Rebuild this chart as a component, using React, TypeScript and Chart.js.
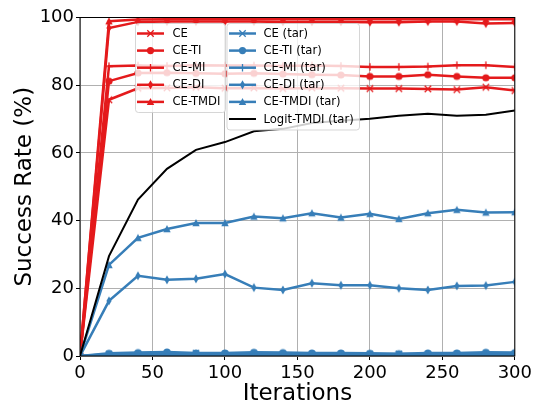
import React, { useEffect, useRef } from "react";
import { Chart, registerables } from "chart.js";

Chart.register(...registerables);

const iterations = [0, 20, 40, 60, 80, 100, 120, 140, 160, 180, 200, 220, 240, 260, 280, 300];
const xTickValues = [0, 50, 100, 150, 200, 250, 300];
const yTickValues = [0, 20, 40, 60, 80, 100];

const ce = [0, 75.7, 79.1, 79.2, 79.4, 79.1, 79.2, 79.0, 79.2, 79.1, 79.0, 79.0, 78.9, 78.7, 79.4, 78.4];
const ceTi = [0, 81.2, 83.6, 83.7, 83.5, 83.4, 83.5, 83.3, 83.1, 83.0, 82.6, 82.6, 83.1, 82.6, 82.2, 82.2];
const ceMi = [0, 85.6, 85.8, 85.7, 85.9, 85.8, 85.8, 85.7, 85.8, 85.7, 85.4, 85.4, 85.5, 85.9, 85.9, 85.4];
const ceDi = [0, 96.9, 98.7, 98.8, 98.8, 98.8, 98.8, 98.7, 98.7, 98.7, 98.6, 98.6, 98.8, 98.8, 98.2, 98.4];
const ceTmdi = [0, 98.9, 99.4, 99.5, 99.5, 99.5, 99.5, 99.5, 99.5, 99.5, 99.5, 99.5, 99.5, 99.5, 99.5, 99.5];

const ceTar = [0, 0.5, 0.6, 0.7, 0.8, 0.6, 0.7, 0.6, 0.5, 0.6, 0.5, 0.6, 0.5, 0.6, 0.7, 0.6];
const ceTiTar = [0, 0.8, 1.0, 1.2, 0.9, 0.9, 1.1, 1.0, 0.9, 0.9, 0.8, 0.7, 0.9, 0.9, 1.1, 1.0];
const ceMiTar = [0, 0.3, 0.4, 0.4, 0.3, 0.4, 0.3, 0.4, 0.3, 0.3, 0.4, 0.3, 0.3, 0.4, 0.3, 0.3];
const ceDiTar = [0, 16.3, 23.7, 22.5, 22.8, 24.2, 20.2, 19.5, 21.5, 20.9, 20.9, 20.0, 19.5, 20.7, 20.8, 21.9];
const ceTmdiTar = [0, 26.9, 34.9, 37.5, 39.3, 39.3, 41.2, 40.7, 42.2, 40.9, 42.0, 40.5, 42.2, 43.2, 42.4, 42.5];
const logitTmdiTar = [0, 29.5, 46.2, 55.3, 60.9, 63.2, 66.4, 67.1, 68.8, 69.5, 70.1, 71.0, 71.6, 71.0, 71.3, 72.5];

const FONT = "'DejaVu Sans', sans-serif";
const RED = "#e41a1c";
const BLUE = "#377eb8";

type Marker = "x" | "o" | "+" | "d" | "^" | null;

const seriesDefs: { label: string; data: number[]; color: string; marker: Marker; width: number }[] = [
  { label: "CE", data: ce, color: RED, marker: "x", width: 2.5 },
  { label: "CE-TI", data: ceTi, color: RED, marker: "o", width: 2.5 },
  { label: "CE-MI", data: ceMi, color: RED, marker: "+", width: 2.5 },
  { label: "CE-DI", data: ceDi, color: RED, marker: "d", width: 2.5 },
  { label: "CE-TMDI", data: ceTmdi, color: RED, marker: "^", width: 2.5 },
  { label: "CE (tar)", data: ceTar, color: BLUE, marker: "x", width: 2.5 },
  { label: "CE-TI (tar)", data: ceTiTar, color: BLUE, marker: "o", width: 2.5 },
  { label: "CE-MI (tar)", data: ceMiTar, color: BLUE, marker: "+", width: 2.5 },
  { label: "CE-DI (tar)", data: ceDiTar, color: BLUE, marker: "d", width: 2.5 },
  { label: "CE-TMDI (tar)", data: ceTmdiTar, color: BLUE, marker: "^", width: 2.5 },
  { label: "Logit-TMDI (tar)", data: logitTmdiTar, color: "#000000", marker: null, width: 2 },
];

function drawMarker(ctx: CanvasRenderingContext2D, marker: Marker, x: number, y: number, color: string) {
  if (!marker) return;
  ctx.save();
  ctx.fillStyle = color;
  ctx.strokeStyle = color;
  ctx.lineWidth = 1.3;
  ctx.beginPath();
  switch (marker) {
    case "o":
      ctx.arc(x, y, 3.6, 0, Math.PI * 2);
      ctx.fill();
      break;
    case "x": {
      const h = 3.2;
      ctx.moveTo(x - h, y - h);
      ctx.lineTo(x + h, y + h);
      ctx.moveTo(x - h, y + h);
      ctx.lineTo(x + h, y - h);
      ctx.stroke();
      break;
    }
    case "+": {
      const h = 3.8;
      ctx.moveTo(x - h, y);
      ctx.lineTo(x + h, y);
      ctx.moveTo(x, y - h);
      ctx.lineTo(x, y + h);
      ctx.stroke();
      break;
    }
    case "d":
      ctx.moveTo(x, y - 4.6);
      ctx.lineTo(x + 2.6, y);
      ctx.lineTo(x, y + 4.6);
      ctx.lineTo(x - 2.6, y);
      ctx.closePath();
      ctx.fill();
      break;
    case "^":
      ctx.moveTo(x, y - 3.9);
      ctx.lineTo(x + 3.7, y + 3.2);
      ctx.lineTo(x - 3.7, y + 3.2);
      ctx.closePath();
      ctx.fill();
      break;
  }
  ctx.restore();
}

function makeMarkerCanvas(marker: Marker, color: string): HTMLCanvasElement {
  const c = document.createElement("canvas");
  c.width = 14;
  c.height = 14;
  const ctx = c.getContext("2d")!;
  drawMarker(ctx, marker, 7, 7, color);
  return c;
}

function roundRectPath(ctx: CanvasRenderingContext2D, x: number, y: number, w: number, h: number, r: number) {
  ctx.beginPath();
  ctx.moveTo(x + r, y);
  ctx.lineTo(x + w - r, y);
  ctx.arcTo(x + w, y, x + w, y + r, r);
  ctx.lineTo(x + w, y + h - r);
  ctx.arcTo(x + w, y + h, x + w - r, y + h, r);
  ctx.lineTo(x + r, y + h);
  ctx.arcTo(x, y + h, x, y + h - r, r);
  ctx.lineTo(x, y + r);
  ctx.arcTo(x, y, x + r, y, r);
  ctx.closePath();
}

const framePlugin = {
  id: "frameAndLegend",
  afterDatasetsDraw(chart: any) {
    const ctx: CanvasRenderingContext2D = chart.ctx;
    const a = chart.chartArea;
    ctx.save();
    ctx.strokeStyle = "#000";
    ctx.lineWidth = 1;
    ctx.strokeRect(a.left, a.top, a.right - a.left, a.bottom - a.top);
    ctx.restore();

    // axis titles
    ctx.save();
    ctx.fillStyle = "#000";
    ctx.font = `23px ${FONT}`;
    ctx.textAlign = "center";
    ctx.textBaseline = "alphabetic";
    ctx.fillText("Iterations", (a.left + a.right) / 2, 400);
    ctx.translate(31, (a.top + a.bottom) / 2);
    ctx.rotate(-Math.PI / 2);
    ctx.fillText("Success Rate (%)", 0, 0);
    ctx.restore();

    // legends
    const boxes = [
      { x: 135, y: 23, w: 90, h: 89, items: seriesDefs.slice(0, 5), hx: 137, tx: 172.5 },
      { x: 226.5, y: 23, w: 132.5, h: 106.5, items: seriesDefs.slice(5), hx: 229, tx: 263.5 },
    ];
    for (const b of boxes) {
      ctx.save();
      ctx.globalAlpha = 0.8;
      roundRectPath(ctx, b.x + 0.5, b.y + 0.5, b.w, b.h, 3);
      ctx.fillStyle = "#ffffff";
      ctx.fill();
      ctx.strokeStyle = "#cccccc";
      ctx.lineWidth = 1;
      ctx.stroke();
      ctx.restore();
      b.items.forEach((s, i) => {
        const cy = 33.5 + i * 17.1;
        ctx.save();
        ctx.strokeStyle = s.color;
        ctx.lineWidth = s.width;
        ctx.beginPath();
        ctx.moveTo(b.hx, cy);
        ctx.lineTo(b.hx + 27, cy);
        ctx.stroke();
        ctx.restore();
        drawMarker(ctx, s.marker, b.hx + 13.5, cy, s.color);
        ctx.save();
        ctx.fillStyle = "#000";
        ctx.font = `11.6px ${FONT}`;
        ctx.textAlign = "left";
        ctx.textBaseline = "middle";
        ctx.fillText(s.label, b.tx, cy + 0.5);
        ctx.restore();
      });
    }
  },
};

export default function App() {
  const canvasRef = useRef<HTMLCanvasElement | null>(null);

  useEffect(() => {
    if (!canvasRef.current) return;
    const n = seriesDefs.length;
    const datasets = seriesDefs.map((s, i) => ({
      label: s.label,
      data: iterations.map((x, j) => ({ x, y: s.data[j] })),
      borderColor: s.color,
      backgroundColor: s.color,
      borderWidth: s.width,
      pointStyle: s.marker ? makeMarkerCanvas(s.marker, s.color) : false,
      pointRadius: s.marker ? 4 : 0,
      pointHoverRadius: s.marker ? 4 : 0,
      tension: 0,
      order: n - i,
    }));
    const tickFont = { family: FONT, size: 18 };
    const chart = new Chart(canvasRef.current, {
      type: "line",
      data: { datasets },
      options: {
        animation: false,
        responsive: false,
        devicePixelRatio: 1,
        events: [],
        layout: { padding: { left: 0, top: 17.5, right: 18, bottom: 0 } },
        plugins: { legend: { display: false }, tooltip: { enabled: false } },
        scales: {
          x: {
            type: "linear",
            min: 0,
            max: 300,
            afterFit: (s: any) => {
              s.height = 48;
            },
            afterBuildTicks: (s: any) => {
              s.ticks = xTickValues.map((v) => ({ value: v }));
            },
            ticks: { font: tickFont, color: "#000", padding: 3, maxRotation: 0, autoSkip: false },
            grid: { color: "#b0b0b0", lineWidth: 1, tickColor: "#000", tickLength: 4 },
            border: { display: false },
          },
          y: {
            type: "linear",
            min: 0,
            max: 100,
            afterFit: (s: any) => {
              s.width = 80;
            },
            afterBuildTicks: (s: any) => {
              s.ticks = yTickValues.map((v) => ({ value: v }));
            },
            ticks: { font: tickFont, color: "#000", padding: 2, autoSkip: false },
            grid: { color: "#b0b0b0", lineWidth: 1, tickColor: "#000", tickLength: 4 },
            border: { display: false },
          },
        },
      },
      plugins: [framePlugin],
    });
    return () => chart.destroy();
  }, []);

  return (
    <div style={{ position: "fixed", left: 0, top: 0, width: 535, height: 404, background: "#fff" }}>
      <canvas ref={canvasRef} width={535} height={404} style={{ width: 535, height: 404 }} />
    </div>
  );
}
